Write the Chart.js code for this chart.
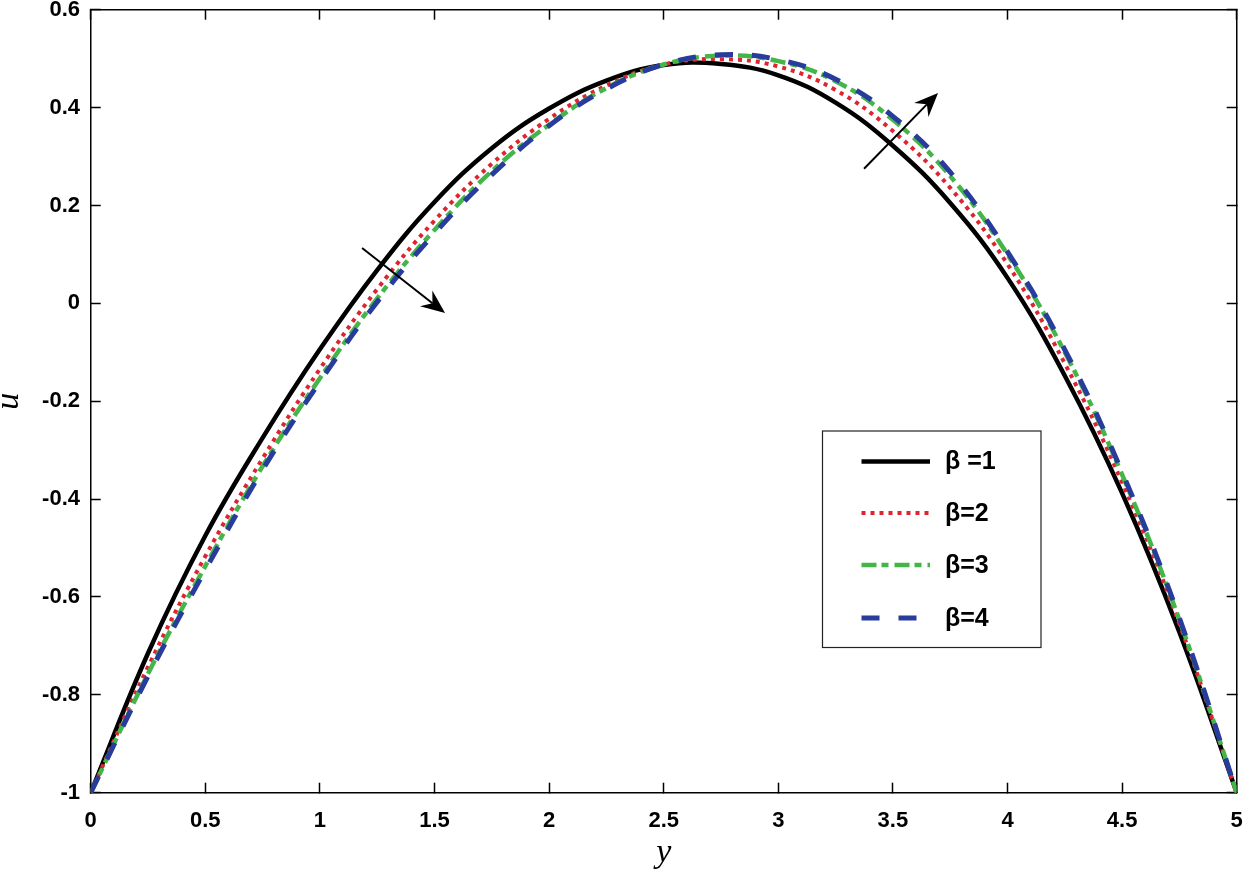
<!DOCTYPE html>
<html>
<head>
<meta charset="utf-8">
<script src="https://cdn.jsdelivr.net/npm/chart.js@4.4.1/dist/chart.umd.min.js"></script>
<style>
  html, body { margin: 0; padding: 0; background: #fff; }
  #wrap { width: 1250px; height: 882px; }
</style>
</head>
<body>
<div id="wrap"><canvas id="myChart" width="1250" height="882"></canvas></div>
<script>
// horizontal variable y, vertical variable u
const ySteps = [0, 0.25, 0.5, 0.75, 1, 1.25, 1.5, 1.75, 2, 2.25, 2.5, 2.75, 3, 3.25, 3.5, 3.75, 4, 4.25, 4.5, 4.75, 5];
const uBeta1 = [-1, -0.715, -0.475, -0.275, -0.094, 0.068, 0.207, 0.317, 0.398, 0.455, 0.487, 0.489, 0.466, 0.41, 0.322, 0.205, 0.052, -0.148, -0.388, -0.672, -1];
const uBeta2 = [-1, -0.743, -0.517, -0.317, -0.134, 0.029, 0.169, 0.285, 0.377, 0.445, 0.488, 0.499, 0.484, 0.436, 0.352, 0.236, 0.08, -0.123, -0.366, -0.655, -1];
const uBeta3 = [-1, -0.757, -0.537, -0.333, -0.153, 0.01, 0.15, 0.27, 0.365, 0.44, 0.488, 0.506, 0.495, 0.454, 0.375, 0.26, 0.1, -0.1, -0.35, -0.647, -1];
const uBeta4 = [-1, -0.762, -0.545, -0.34, -0.16, 0.003, 0.143, 0.263, 0.363, 0.438, 0.488, 0.508, 0.498, 0.458, 0.382, 0.268, 0.105, -0.095, -0.345, -0.643, -1];

const seriesLabels = ['β =1', 'β=2', 'β=3', 'β=4'];

const xTicks = [0, 0.5, 1, 1.5, 2, 2.5, 3, 3.5, 4, 4.5, 5];
const xTickLabels = ['0', '0.5', '1', '1.5', '2', '2.5', '3', '3.5', '4', '4.5', '5'];
const yTicks = [-1, -0.8, -0.6, -0.4, -0.2, 0, 0.2, 0.4, 0.6];
const yTickLabels = ['-1', '-0.8', '-0.6', '-0.4', '-0.2', '0', '0.2', '0.4', '0.6'];

// annotation arrows, in data units
const arrowStarts = [[1.184, 0.113], [3.374, 0.275]];
const arrowEnds = [[1.546, -0.020], [3.697, 0.430]];

const sansBold = '"Liberation Sans", Arial, Helvetica, sans-serif';
const serif = '"Liberation Serif", "DejaVu Serif", serif';

const styles = [
    { color: '#000000', width: 4.5, dash: [] },
    { color: '#de2430', width: 4, dash: [4, 5] },
    { color: '#44b549', width: 4.5, dash: [15, 5, 7, 6] },
    { color: '#283c9c', width: 5, dash: [18, 19] },
];

const series = [uBeta1, uBeta2, uBeta3, uBeta4];

const datasets = series.map((vals, i) => ({
    label: seriesLabels[i],
    data: ySteps.map((v, k) => ({ x: v, y: vals[k] })),
    borderColor: styles[i].color,
    borderWidth: styles[i].width,
    borderDash: styles[i].dash,
    borderCapStyle: 'butt',
    pointRadius: 0,
    fill: false,
    tension: 0.4,
    order: 4 - i,
}));

const tickGrid = { drawOnChartArea: false, drawTicks: true, tickLength: -10, tickColor: '#000', tickWidth: 1.5 };
const axisBorder = { display: true, color: '#000', width: 1.5 };

// fixed box sizes, no extra room reserved for overhanging labels
const fixHeight = h => s => { s.height = h; s.paddingLeft = 0; s.paddingRight = 0; };
const fixWidth = w => s => { s.width = w; s.paddingTop = 0; s.paddingBottom = 0; };

const overlay = {
    id: 'overlay',
    afterDatasetsDraw(chart) {
        const { ctx } = chart;
        const xs = chart.scales.x, ys = chart.scales.y;
        ctx.save();
        ctx.strokeStyle = '#000';
        ctx.fillStyle = '#000';
        ctx.lineWidth = 2;
        arrowStarts.forEach((s, i) => {
            const x0 = xs.getPixelForValue(s[0]), y0 = ys.getPixelForValue(s[1]);
            const x1 = xs.getPixelForValue(arrowEnds[i][0]), y1 = ys.getPixelForValue(arrowEnds[i][1]);
            const ang = Math.atan2(y1 - y0, x1 - x0);
            const c = Math.cos(ang), sn = Math.sin(ang);
            const len = 24, half = 10, notch = 8;
            ctx.beginPath();
            ctx.moveTo(x0, y0);
            ctx.lineTo(x1 - (len - notch) * c, y1 - (len - notch) * sn);
            ctx.stroke();
            ctx.beginPath();
            ctx.moveTo(x1, y1);
            ctx.lineTo(x1 - len * c + half * sn, y1 - len * sn - half * c);
            ctx.lineTo(x1 - (len - notch) * c, y1 - (len - notch) * sn);
            ctx.lineTo(x1 - len * c - half * sn, y1 - len * sn + half * c);
            ctx.closePath();
            ctx.fill();
        });
        ctx.restore();
    },
    afterDraw(chart) {
        // legend box inside the plot, like the original figure
        const { ctx } = chart;
        const box = { left: 822.5, top: 431, right: 1041, bottom: 647.5 };
        const rows = [461.5, 513, 565, 618];
        ctx.save();
        ctx.fillStyle = '#fff';
        ctx.fillRect(box.left, box.top, box.right - box.left, box.bottom - box.top);
        ctx.strokeStyle = '#222';
        ctx.lineWidth = 1.2;
        ctx.strokeRect(box.left, box.top, box.right - box.left, box.bottom - box.top);
        ctx.font = 'bold 25px ' + sansBold;
        ctx.textBaseline = 'middle';
        ctx.textAlign = 'left';
        rows.forEach((ry, i) => {
            ctx.beginPath();
            ctx.strokeStyle = styles[i].color;
            ctx.lineWidth = styles[i].width;
            ctx.setLineDash(styles[i].dash);
            ctx.lineCap = 'butt';
            ctx.moveTo(861.5, ry);
            ctx.lineTo(930, ry);
            ctx.stroke();
            ctx.setLineDash([]);
            ctx.fillStyle = '#000';
            ctx.fillText(seriesLabels[i], 945, ry + 1);
        });
        ctx.restore();
    }
};

new Chart(document.getElementById('myChart'), {
    type: 'line',
    data: { datasets },
    plugins: [overlay],
    options: {
        responsive: false,
        animation: false,
        devicePixelRatio: 1,
        layout: { padding: 0 },
        plugins: { legend: { display: false }, tooltip: { enabled: false } },
        scales: {
            x: {
                type: 'linear', position: 'bottom', min: 0, max: 5,
                afterBuildTicks: s => { s.ticks = xTicks.map(v => ({ value: v })); },
                afterFit: fixHeight(89.3),
                ticks: {
                    callback: (v, i) => xTickLabels[i],
                    font: { family: sansBold, size: 22, weight: 'bold' },
                    color: '#000', padding: 24.6, maxRotation: 0, autoSkip: false
                },
                grid: tickGrid,
                border: axisBorder,
                title: {
                    display: true, text: 'y', color: '#000',
                    font: { family: serif, size: 34, style: 'italic' },
                    padding: { top: 0, bottom: 9 }
                }
            },
            xTop: {
                type: 'linear', position: 'top', min: 0, max: 5,
                afterBuildTicks: s => { s.ticks = xTicks.map(v => ({ value: v })); },
                afterFit: fixHeight(9.7),
                ticks: { display: false },
                grid: tickGrid,
                border: axisBorder
            },
            y: {
                type: 'linear', position: 'left', min: -1, max: 0.6,
                afterBuildTicks: s => { s.ticks = yTicks.map(v => ({ value: v })); },
                afterFit: fixWidth(90.7),
                ticks: {
                    callback: (v, i) => yTickLabels[i],
                    font: { family: sansBold, size: 22, weight: 'bold' },
                    color: '#000', padding: 20.7, autoSkip: false
                },
                grid: tickGrid,
                border: axisBorder,
                title: {
                    display: true, text: 'u', color: '#000',
                    font: { family: serif, size: 34, style: 'italic' },
                    padding: { top: -11, bottom: 0 }
                }
            },
            yRight: {
                type: 'linear', position: 'right', min: -1, max: 0.6,
                afterBuildTicks: s => { s.ticks = yTicks.map(v => ({ value: v })); },
                afterFit: fixWidth(13.3),
                ticks: { display: false },
                grid: tickGrid,
                border: axisBorder
            }
        }
    }
});
</script>
</body>
</html>
